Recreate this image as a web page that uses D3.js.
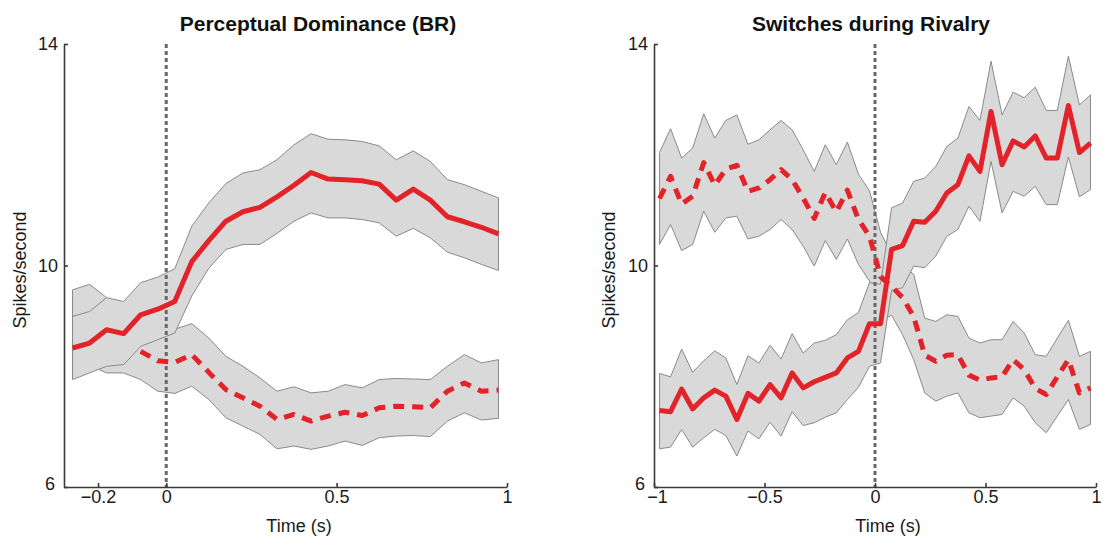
<!DOCTYPE html>
<html>
<head>
<meta charset="utf-8">
<script src="https://cdn.jsdelivr.net/npm/d3@7"></script>
<style>
  html, body { margin: 0; padding: 0; background: #fff; }
  svg { display: block; }
  text { font-family: "Liberation Sans", Arial, sans-serif; }
</style>
</head>
<body>
<svg id="chart" width="1103" height="538"></svg>
<script>
// ---------------- DATA ----------------
const yTicks = [6, 10, 14];
const leftXTicks = [-0.2, 0, 0.5, 1];
const rightXTicks = [-1, -0.5, 0, 0.5, 1];
const leftTitle = "Perceptual Dominance (BR)";
const rightTitle = "Switches during Rivalry";
const xLabel = "Time (s)";
const yLabel = "Spikes/second";

// Left panel: Perceptual Dominance (BR)
const leftTime = [-0.275,-0.225,-0.175,-0.125,-0.075,-0.025,0.025,0.075,0.125,0.175,0.225,0.275,0.325,0.375,0.425,0.475,0.525,0.575,0.625,0.675,0.725,0.775,0.825,0.875,0.925,0.975];
const leftPrefMean  = [8.51,8.60,8.84,8.77,9.11,9.21,9.35,10.07,10.45,10.80,10.97,11.05,11.24,11.45,11.68,11.56,11.55,11.53,11.47,11.18,11.38,11.18,10.88,10.79,10.69,10.57];
const leftPrefUpper = [9.08,9.17,9.42,9.35,9.69,9.79,9.94,10.71,11.13,11.48,11.67,11.73,11.91,12.18,12.38,12.28,12.27,12.24,12.16,11.91,12.07,11.88,11.55,11.46,11.34,11.22];
const leftPrefLower = [7.94,8.06,8.18,8.21,8.54,8.66,8.78,9.45,9.95,10.29,10.38,10.38,10.58,10.80,10.95,10.86,10.86,10.83,10.77,10.53,10.67,10.50,10.24,10.14,10.02,9.91];
const leftNullMean  = [null,null,null,null,8.45,8.28,8.25,8.39,8.07,7.76,7.61,7.46,7.22,7.31,7.19,7.28,7.35,7.29,7.43,7.46,7.45,7.43,7.73,7.88,7.73,7.75];
const leftNullUpper = [9.56,9.66,9.42,9.00,8.90,8.85,8.85,8.95,8.69,8.36,8.18,7.97,7.73,7.81,7.70,7.73,7.85,7.79,7.94,7.96,7.95,7.94,8.18,8.39,8.24,8.30];
const leftNullLower = [8.10,8.20,8.06,8.06,7.94,7.73,7.69,7.82,7.58,7.25,7.10,6.95,6.69,6.74,6.68,6.74,6.83,6.75,6.89,6.92,6.93,6.91,7.19,7.34,7.21,7.24];

// Right panel: Switches during Rivalry
const rightTime = [-0.975,-0.925,-0.875,-0.825,-0.775,-0.725,-0.675,-0.625,-0.575,-0.525,-0.475,-0.425,-0.375,-0.325,-0.275,-0.225,-0.175,-0.125,-0.075,-0.025,0.025,0.075,0.125,0.175,0.225,0.275,0.325,0.375,0.425,0.475,0.525,0.575,0.625,0.675,0.725,0.775,0.825,0.875,0.925,0.975];
const rightPrefMean  = [7.38,7.36,7.77,7.41,7.61,7.75,7.64,7.22,7.69,7.55,7.85,7.61,8.06,7.79,7.90,7.98,8.06,8.33,8.45,8.95,8.95,10.29,10.36,10.80,10.78,10.98,11.31,11.46,11.98,11.70,12.78,11.82,12.25,12.14,12.34,11.94,11.94,12.89,12.04,12.21];
const rightPrefUpper = [8.05,7.99,8.49,8.07,8.28,8.46,8.33,7.85,8.37,8.24,8.56,8.31,8.77,8.42,8.60,8.65,8.75,9.02,9.15,9.69,9.66,11.04,11.13,11.52,11.58,11.79,12.15,12.30,12.87,12.62,13.69,12.72,13.13,13.03,13.22,12.80,12.80,13.78,12.90,13.08];
const rightPrefLower = [6.69,6.72,7.04,6.72,6.89,7.04,6.93,6.56,7.01,6.87,7.17,6.92,7.36,7.11,7.16,7.26,7.34,7.58,7.80,8.18,8.24,9.55,9.60,9.99,9.96,10.17,10.53,10.65,11.07,10.80,11.88,10.95,11.34,11.25,11.43,11.10,11.10,11.96,11.24,11.37];
const rightNullMean  = [11.21,11.61,11.11,11.25,11.86,11.45,11.74,11.81,11.34,11.40,11.55,11.73,11.55,11.22,10.85,11.32,10.97,11.36,10.83,10.53,9.80,9.62,9.42,9.08,8.38,8.27,8.38,8.39,8.02,7.93,7.97,7.99,8.30,8.12,7.78,7.67,7.99,8.30,7.70,7.79];
const rightNullUpper = [12.04,12.47,11.94,12.12,12.74,12.30,12.62,12.72,12.19,12.27,12.45,12.62,12.45,12.09,11.70,12.18,11.82,12.23,11.65,11.35,10.60,10.20,10.00,9.84,9.05,8.99,9.11,9.08,8.69,8.60,8.66,8.66,8.99,8.78,8.39,8.36,8.69,9.01,8.36,8.45];
const rightNullLower = [10.38,10.74,10.27,10.38,10.98,10.60,10.86,10.89,10.48,10.53,10.65,10.83,10.65,10.35,9.99,10.45,10.11,10.48,10.02,9.72,9.00,9.10,8.75,8.30,7.70,7.55,7.64,7.70,7.34,7.25,7.28,7.31,7.61,7.46,7.16,6.98,7.28,7.58,7.04,7.13];

// ---------------- DRAWING ----------------
const svg = d3.select("#chart");
svg.append("rect").attr("width", 1103).attr("height", 538).attr("fill", "#fff");

const RED = "#e3232a";
const BAND = "#d9d9d9";
const BAND_EDGE = "#8a8a8a";
const AXIS = "#3a3a3a";
const fmt = d3.format("~g");

function series(time, mean, upper, lower) {
  return time.map((t, i) => ({ t, m: mean[i], u: upper[i], l: lower[i] }));
}

function panel(cfg) {
  const g = svg.append("g");
  const x = d3.scaleLinear().domain(cfg.xDomain).range(cfg.xRange);
  const y = d3.scaleLinear().domain([6, 14]).range([487, 44]);

  const area = d3.area().x(d => x(d.t)).y0(d => y(d.l)).y1(d => y(d.u));
  const line = d3.line().defined(d => d.m != null).x(d => x(d.t)).y(d => y(d.m));

  // bands: non-preferred first, preferred on top
  [cfg.nullS, cfg.prefS].forEach(s => {
    g.append("path").datum(s).attr("d", area)
      .attr("fill", BAND).attr("stroke", BAND_EDGE).attr("stroke-width", 1)
      .attr("stroke-linejoin", "round");
  });

  // zero line
  g.append("line")
    .attr("x1", x(0)).attr("x2", x(0)).attr("y1", y(14)).attr("y2", y(6))
    .attr("stroke", "#686868").attr("stroke-width", 3).attr("stroke-dasharray", "4,3");

  // mean lines
  g.append("path").datum(cfg.nullS).attr("d", line)
    .attr("fill", "none").attr("stroke", RED).attr("stroke-width", 5)
    .attr("stroke-dasharray", "11,8").attr("stroke-linejoin", "round");
  g.append("path").datum(cfg.prefS).attr("d", line)
    .attr("fill", "none").attr("stroke", RED).attr("stroke-width", 5)
    .attr("stroke-linejoin", "round");

  // axes
  const yAxis = d3.axisLeft(y).tickValues(yTicks).tickFormat(fmt).tickSizeInner(-4).tickSizeOuter(0).tickPadding(6);
  const xAxis = d3.axisBottom(x).tickValues(cfg.xTicks).tickFormat(fmt).tickSizeInner(-4).tickSizeOuter(0).tickPadding(3);

  const ya = g.append("g").attr("transform", `translate(${cfg.xRange[0]},0)`).call(yAxis);
  const xa = g.append("g").attr("transform", `translate(0,487)`).call(xAxis);
  [ya, xa].forEach(a => {
    a.select(".domain").attr("stroke", AXIS).attr("stroke-width", 1.6);
    a.selectAll(".tick line").attr("stroke", AXIS).attr("stroke-width", 1.6);
    a.selectAll(".tick text").attr("fill", "#1a1a1a")
      .style("font-family", '"Liberation Sans", Arial, sans-serif').style("font-size", "18px");
  });
  // keep the corner labels ("6" and the first x tick) from colliding
  ya.selectAll(".tick text").filter(d => d === 6).attr("x", -9).attr("dy", "0.12em");
  xa.selectAll(".tick text").filter(d => d === cfg.xDomain[0]).attr("dx", 3);

  // title
  g.append("text").attr("x", cfg.titleX).attr("y", 31).attr("text-anchor", "middle")
    .style("font-size", "21px").style("font-weight", "bold").attr("fill", "#111")
    .text(cfg.title);
  // x label
  g.append("text").attr("x", cfg.xLabelX).attr("y", 532).attr("text-anchor", "middle")
    .style("font-size", "18px").attr("fill", "#1a1a1a").text(xLabel);
  // y label
  g.append("text").attr("transform", `translate(${cfg.yLabelX},270) rotate(-90)`)
    .attr("text-anchor", "middle").style("font-size", "18px").attr("fill", "#1a1a1a").text(yLabel);
}

panel({
  xDomain: [-0.3, 1], xRange: [64, 507], xTicks: leftXTicks,
  prefS: series(leftTime, leftPrefMean, leftPrefUpper, leftPrefLower),
  nullS: series(leftTime, leftNullMean, leftNullUpper, leftNullLower),
  title: leftTitle, titleX: 318, xLabelX: 299, yLabelX: 26
});
panel({
  xDomain: [-1, 1], xRange: [654, 1096], xTicks: rightXTicks,
  prefS: series(rightTime, rightPrefMean, rightPrefUpper, rightPrefLower),
  nullS: series(rightTime, rightNullMean, rightNullUpper, rightNullLower),
  title: rightTitle, titleX: 871, xLabelX: 888, yLabelX: 615
});
</script>
</body>
</html>
